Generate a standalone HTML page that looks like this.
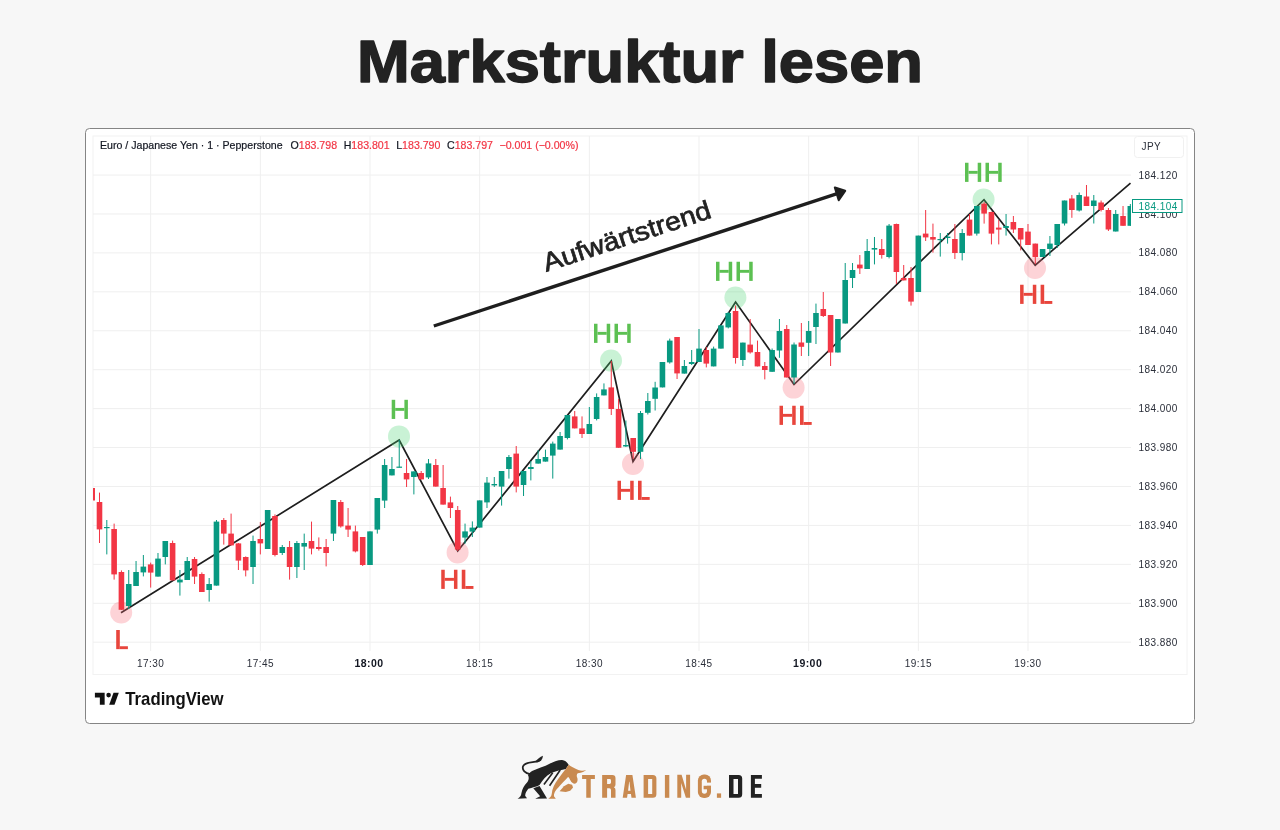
<!DOCTYPE html>
<html><head><meta charset="utf-8">
<style>
html,body{margin:0;padding:0;width:1280px;height:830px;overflow:hidden;background:#f7f7f7;}
svg{position:absolute;left:0;top:0;will-change:transform;}
text{font-family:"Liberation Sans",sans-serif;}
.ax{font-size:10px;letter-spacing:0.45px;fill:#2a2e39;}
.axb{font-weight:bold;fill:#131722;}
.lab{font-size:28px;font-weight:bold;}
.gl{fill:#5cbf55;}
.rl{fill:#e54a3e;}
.hd{font-size:10.6px;fill:#131722;stroke:#131722;stroke-width:0.2px;}
.hr{fill:#f23645;stroke:#f23645;}
</style></head><body>
<svg width="1280" height="830" viewBox="0 0 1280 830">
<text x="357" y="82.4" font-size="60" font-weight="bold" fill="#222222" stroke="#222222" stroke-width="1.5" stroke-linejoin="round" textLength="566" lengthAdjust="spacingAndGlyphs">Markstruktur lesen</text>
<rect x="85.5" y="128.5" width="1109" height="595" rx="4" fill="#ffffff" stroke="#858585" stroke-width="1"/>
<rect x="93" y="136" width="1094" height="538.5" fill="none" stroke="#f2f2f2" stroke-width="1"/>
<g><rect x="93" y="641.70" width="1038" height="1" fill="#efefef"/>
<rect x="93" y="602.77" width="1038" height="1" fill="#efefef"/>
<rect x="93" y="563.84" width="1038" height="1" fill="#efefef"/>
<rect x="93" y="524.91" width="1038" height="1" fill="#efefef"/>
<rect x="93" y="485.98" width="1038" height="1" fill="#efefef"/>
<rect x="93" y="447.05" width="1038" height="1" fill="#efefef"/>
<rect x="93" y="408.12" width="1038" height="1" fill="#efefef"/>
<rect x="93" y="369.19" width="1038" height="1" fill="#efefef"/>
<rect x="93" y="330.26" width="1038" height="1" fill="#efefef"/>
<rect x="93" y="291.33" width="1038" height="1" fill="#efefef"/>
<rect x="93" y="252.40" width="1038" height="1" fill="#efefef"/>
<rect x="93" y="213.47" width="1038" height="1" fill="#efefef"/>
<rect x="93" y="174.54" width="1038" height="1" fill="#efefef"/>
<rect x="150.17" y="136" width="1" height="515" fill="#efefef"/>
<rect x="259.84" y="136" width="1" height="515" fill="#efefef"/>
<rect x="369.50" y="136" width="1" height="515" fill="#efefef"/>
<rect x="479.16" y="136" width="1" height="515" fill="#efefef"/>
<rect x="588.83" y="136" width="1" height="515" fill="#efefef"/>
<rect x="698.50" y="136" width="1" height="515" fill="#efefef"/>
<rect x="808.16" y="136" width="1" height="515" fill="#efefef"/>
<rect x="917.83" y="136" width="1" height="515" fill="#efefef"/>
<rect x="1027.49" y="136" width="1" height="515" fill="#efefef"/></g>
<defs><clipPath id="pc"><rect x="93" y="136" width="1038" height="538"/></clipPath></defs>
<polyline points="121,612.8 399.2,440 457.7,551 611.3,361 633,461.5 735.6,302 794,384.5 984,199.7 1035.2,265.2 1130.5,183.2" fill="none" stroke="#1e1e1e" stroke-width="1.7" stroke-linejoin="miter"/>
<circle cx="121.2" cy="612.5" r="11" fill="rgba(248,108,122,0.3)"/>
<circle cx="399" cy="436.4" r="11" fill="rgba(75,212,115,0.3)"/>
<circle cx="457.6" cy="552.4" r="11" fill="rgba(248,108,122,0.3)"/>
<circle cx="611" cy="360.6" r="11" fill="rgba(75,212,115,0.3)"/>
<circle cx="633" cy="464" r="11" fill="rgba(248,108,122,0.3)"/>
<circle cx="735.4" cy="297.6" r="11" fill="rgba(75,212,115,0.3)"/>
<circle cx="793.6" cy="387.6" r="11" fill="rgba(248,108,122,0.3)"/>
<circle cx="983.6" cy="199.6" r="11" fill="rgba(75,212,115,0.3)"/>
<circle cx="1035" cy="268" r="11" fill="rgba(248,108,122,0.3)"/>
<g clip-path="url(#pc)"><rect x="91.68" y="488.0" width="1" height="12.5" fill="#f23645"/>
<rect x="89.38" y="488.0" width="5.6" height="12.5" fill="#f23645"/>
<rect x="98.99" y="492.6" width="1" height="50.4" fill="#f23645"/>
<rect x="96.69" y="502.0" width="5.6" height="27.4" fill="#f23645"/>
<rect x="106.30" y="520.0" width="1" height="34.4" fill="#089981"/>
<rect x="104.00" y="527.0" width="5.6" height="1.2" fill="#089981"/>
<rect x="113.62" y="523.6" width="1" height="56.0" fill="#f23645"/>
<rect x="111.32" y="529.0" width="5.6" height="45.4" fill="#f23645"/>
<rect x="120.93" y="570.4" width="1" height="39.6" fill="#f23645"/>
<rect x="118.63" y="572.0" width="5.6" height="37.8" fill="#f23645"/>
<rect x="128.24" y="570.0" width="1" height="39.0" fill="#089981"/>
<rect x="125.94" y="584.0" width="5.6" height="22.0" fill="#089981"/>
<rect x="135.55" y="561.0" width="1" height="25.0" fill="#089981"/>
<rect x="133.25" y="572.0" width="5.6" height="14.0" fill="#089981"/>
<rect x="142.86" y="555.0" width="1" height="21.4" fill="#089981"/>
<rect x="140.56" y="566.6" width="5.6" height="5.8" fill="#089981"/>
<rect x="150.17" y="562.6" width="1" height="25.0" fill="#f23645"/>
<rect x="147.87" y="564.4" width="5.6" height="8.2" fill="#f23645"/>
<rect x="157.48" y="553.0" width="1" height="23.6" fill="#089981"/>
<rect x="155.18" y="558.6" width="5.6" height="18.0" fill="#089981"/>
<rect x="164.79" y="541.0" width="1" height="23.4" fill="#089981"/>
<rect x="162.49" y="541.0" width="5.6" height="16.0" fill="#089981"/>
<rect x="172.10" y="540.6" width="1" height="39.8" fill="#f23645"/>
<rect x="169.80" y="543.0" width="5.6" height="37.4" fill="#f23645"/>
<rect x="179.41" y="570.0" width="1" height="25.6" fill="#089981"/>
<rect x="177.11" y="579.6" width="5.6" height="2.8" fill="#089981"/>
<rect x="186.72" y="557.0" width="1" height="23.0" fill="#089981"/>
<rect x="184.42" y="561.0" width="5.6" height="19.0" fill="#089981"/>
<rect x="194.04" y="557.0" width="1" height="27.0" fill="#f23645"/>
<rect x="191.74" y="559.0" width="5.6" height="17.6" fill="#f23645"/>
<rect x="201.35" y="572.4" width="1" height="19.6" fill="#f23645"/>
<rect x="199.05" y="574.0" width="5.6" height="18.0" fill="#f23645"/>
<rect x="208.66" y="578.0" width="1" height="23.6" fill="#089981"/>
<rect x="206.36" y="584.0" width="5.6" height="6.0" fill="#089981"/>
<rect x="215.97" y="520.0" width="1" height="65.6" fill="#089981"/>
<rect x="213.67" y="521.6" width="5.6" height="64.0" fill="#089981"/>
<rect x="223.28" y="518.0" width="1" height="26.6" fill="#f23645"/>
<rect x="220.98" y="520.0" width="5.6" height="13.6" fill="#f23645"/>
<rect x="230.59" y="513.6" width="1" height="31.8" fill="#f23645"/>
<rect x="228.29" y="533.6" width="5.6" height="11.8" fill="#f23645"/>
<rect x="237.90" y="543.0" width="1" height="27.0" fill="#f23645"/>
<rect x="235.60" y="543.4" width="5.6" height="17.2" fill="#f23645"/>
<rect x="245.21" y="556.4" width="1" height="20.0" fill="#f23645"/>
<rect x="242.91" y="557.0" width="5.6" height="13.4" fill="#f23645"/>
<rect x="252.52" y="535.6" width="1" height="48.4" fill="#089981"/>
<rect x="250.22" y="541.0" width="5.6" height="26.0" fill="#089981"/>
<rect x="259.84" y="522.0" width="1" height="32.4" fill="#f23645"/>
<rect x="257.54" y="539.0" width="5.6" height="4.4" fill="#f23645"/>
<rect x="267.15" y="510.0" width="1" height="39.0" fill="#089981"/>
<rect x="264.85" y="510.0" width="5.6" height="39.0" fill="#089981"/>
<rect x="274.46" y="514.4" width="1" height="42.0" fill="#f23645"/>
<rect x="272.16" y="516.0" width="5.6" height="39.0" fill="#f23645"/>
<rect x="281.77" y="545.0" width="1" height="10.0" fill="#089981"/>
<rect x="279.47" y="547.0" width="5.6" height="6.0" fill="#089981"/>
<rect x="289.08" y="541.0" width="1" height="38.6" fill="#f23645"/>
<rect x="286.78" y="547.0" width="5.6" height="20.0" fill="#f23645"/>
<rect x="296.39" y="541.0" width="1" height="37.0" fill="#089981"/>
<rect x="294.09" y="543.0" width="5.6" height="24.0" fill="#089981"/>
<rect x="303.70" y="533.6" width="1" height="36.4" fill="#089981"/>
<rect x="301.40" y="543.0" width="5.6" height="3.6" fill="#089981"/>
<rect x="311.01" y="521.6" width="1" height="32.8" fill="#f23645"/>
<rect x="308.71" y="541.0" width="5.6" height="7.6" fill="#f23645"/>
<rect x="318.32" y="537.4" width="1" height="13.2" fill="#f23645"/>
<rect x="316.02" y="547.0" width="5.6" height="2.0" fill="#f23645"/>
<rect x="325.63" y="539.0" width="1" height="27.4" fill="#f23645"/>
<rect x="323.33" y="547.0" width="5.6" height="6.0" fill="#f23645"/>
<rect x="332.94" y="500.0" width="1" height="41.0" fill="#089981"/>
<rect x="330.64" y="500.0" width="5.6" height="33.6" fill="#089981"/>
<rect x="340.26" y="500.0" width="1" height="27.6" fill="#f23645"/>
<rect x="337.96" y="502.0" width="5.6" height="24.4" fill="#f23645"/>
<rect x="347.57" y="508.0" width="1" height="29.0" fill="#f23645"/>
<rect x="345.27" y="525.6" width="5.6" height="4.0" fill="#f23645"/>
<rect x="354.88" y="525.6" width="1" height="26.8" fill="#f23645"/>
<rect x="352.58" y="531.4" width="5.6" height="20.0" fill="#f23645"/>
<rect x="362.19" y="537.0" width="1" height="29.0" fill="#f23645"/>
<rect x="359.89" y="537.0" width="5.6" height="28.0" fill="#f23645"/>
<rect x="369.50" y="531.4" width="1" height="33.6" fill="#089981"/>
<rect x="367.20" y="531.4" width="5.6" height="33.6" fill="#089981"/>
<rect x="376.81" y="498.0" width="1" height="35.6" fill="#089981"/>
<rect x="374.51" y="498.0" width="5.6" height="31.6" fill="#089981"/>
<rect x="384.12" y="459.0" width="1" height="49.0" fill="#089981"/>
<rect x="381.82" y="465.0" width="5.6" height="35.6" fill="#089981"/>
<rect x="391.43" y="457.0" width="1" height="18.4" fill="#089981"/>
<rect x="389.13" y="469.0" width="5.6" height="6.4" fill="#089981"/>
<rect x="398.74" y="440.0" width="1" height="27.6" fill="#089981"/>
<rect x="396.44" y="466.6" width="5.6" height="1.2" fill="#089981"/>
<rect x="406.06" y="459.0" width="1" height="28.0" fill="#f23645"/>
<rect x="403.75" y="473.0" width="5.6" height="6.4" fill="#f23645"/>
<rect x="413.37" y="471.4" width="1" height="23.0" fill="#089981"/>
<rect x="411.07" y="471.4" width="5.6" height="5.6" fill="#089981"/>
<rect x="420.68" y="471.0" width="1" height="8.4" fill="#f23645"/>
<rect x="418.38" y="473.0" width="5.6" height="6.4" fill="#f23645"/>
<rect x="427.99" y="459.0" width="1" height="20.0" fill="#089981"/>
<rect x="425.69" y="463.4" width="5.6" height="14.0" fill="#089981"/>
<rect x="435.30" y="459.0" width="1" height="27.6" fill="#f23645"/>
<rect x="433.00" y="465.0" width="5.6" height="21.6" fill="#f23645"/>
<rect x="442.61" y="465.0" width="1" height="39.6" fill="#f23645"/>
<rect x="440.31" y="488.0" width="5.6" height="16.6" fill="#f23645"/>
<rect x="449.92" y="496.6" width="1" height="21.4" fill="#f23645"/>
<rect x="447.62" y="502.4" width="5.6" height="5.6" fill="#f23645"/>
<rect x="457.23" y="506.0" width="1" height="45.0" fill="#f23645"/>
<rect x="454.93" y="510.0" width="5.6" height="39.6" fill="#f23645"/>
<rect x="464.54" y="523.6" width="1" height="20.0" fill="#089981"/>
<rect x="462.24" y="531.4" width="5.6" height="6.2" fill="#089981"/>
<rect x="471.85" y="521.4" width="1" height="15.6" fill="#089981"/>
<rect x="469.55" y="527.6" width="5.6" height="4.0" fill="#089981"/>
<rect x="479.16" y="500.4" width="1" height="27.2" fill="#089981"/>
<rect x="476.86" y="500.4" width="5.6" height="27.2" fill="#089981"/>
<rect x="486.48" y="477.0" width="1" height="31.0" fill="#089981"/>
<rect x="484.18" y="482.6" width="5.6" height="19.8" fill="#089981"/>
<rect x="493.79" y="477.0" width="1" height="10.0" fill="#089981"/>
<rect x="491.49" y="484.0" width="5.6" height="1.4" fill="#089981"/>
<rect x="501.10" y="471.0" width="1" height="34.6" fill="#089981"/>
<rect x="498.80" y="471.0" width="5.6" height="15.6" fill="#089981"/>
<rect x="508.41" y="455.0" width="1" height="23.6" fill="#089981"/>
<rect x="506.11" y="457.0" width="5.6" height="12.0" fill="#089981"/>
<rect x="515.72" y="446.0" width="1" height="46.4" fill="#f23645"/>
<rect x="513.42" y="453.6" width="5.6" height="33.0" fill="#f23645"/>
<rect x="523.03" y="471.0" width="1" height="25.0" fill="#089981"/>
<rect x="520.73" y="471.0" width="5.6" height="14.0" fill="#089981"/>
<rect x="530.34" y="461.0" width="1" height="19.4" fill="#089981"/>
<rect x="528.04" y="467.0" width="5.6" height="2.0" fill="#089981"/>
<rect x="537.65" y="450.0" width="1" height="13.6" fill="#089981"/>
<rect x="535.35" y="459.0" width="5.6" height="4.6" fill="#089981"/>
<rect x="544.96" y="449.6" width="1" height="12.0" fill="#089981"/>
<rect x="542.66" y="457.0" width="5.6" height="4.6" fill="#089981"/>
<rect x="552.27" y="441.6" width="1" height="37.0" fill="#089981"/>
<rect x="549.98" y="443.6" width="5.6" height="12.0" fill="#089981"/>
<rect x="559.59" y="432.0" width="1" height="17.6" fill="#089981"/>
<rect x="557.29" y="436.0" width="5.6" height="13.6" fill="#089981"/>
<rect x="566.90" y="415.0" width="1" height="24.4" fill="#089981"/>
<rect x="564.60" y="415.0" width="5.6" height="23.0" fill="#089981"/>
<rect x="574.21" y="411.0" width="1" height="17.4" fill="#f23645"/>
<rect x="571.91" y="416.4" width="5.6" height="12.0" fill="#f23645"/>
<rect x="581.52" y="416.4" width="1" height="21.6" fill="#f23645"/>
<rect x="579.22" y="428.4" width="5.6" height="5.6" fill="#f23645"/>
<rect x="588.83" y="407.0" width="1" height="27.0" fill="#089981"/>
<rect x="586.53" y="424.0" width="5.6" height="10.0" fill="#089981"/>
<rect x="596.14" y="393.4" width="1" height="27.0" fill="#089981"/>
<rect x="593.84" y="397.0" width="5.6" height="22.0" fill="#089981"/>
<rect x="603.45" y="383.4" width="1" height="12.0" fill="#089981"/>
<rect x="601.15" y="389.4" width="5.6" height="6.0" fill="#089981"/>
<rect x="610.76" y="361.0" width="1" height="54.0" fill="#f23645"/>
<rect x="608.46" y="387.4" width="5.6" height="21.6" fill="#f23645"/>
<rect x="618.07" y="399.0" width="1" height="48.8" fill="#f23645"/>
<rect x="615.77" y="409.0" width="5.6" height="38.8" fill="#f23645"/>
<rect x="625.38" y="420.5" width="1" height="26.5" fill="#089981"/>
<rect x="623.09" y="445.0" width="5.6" height="1.5" fill="#089981"/>
<rect x="632.70" y="438.0" width="1" height="21.0" fill="#f23645"/>
<rect x="630.40" y="438.0" width="5.6" height="13.8" fill="#f23645"/>
<rect x="640.01" y="411.0" width="1" height="48.0" fill="#089981"/>
<rect x="637.71" y="413.0" width="5.6" height="38.8" fill="#089981"/>
<rect x="647.32" y="393.0" width="1" height="21.5" fill="#089981"/>
<rect x="645.02" y="401.0" width="5.6" height="11.8" fill="#089981"/>
<rect x="654.63" y="381.8" width="1" height="28.7" fill="#089981"/>
<rect x="652.33" y="387.5" width="5.6" height="11.3" fill="#089981"/>
<rect x="661.94" y="362.0" width="1" height="25.4" fill="#089981"/>
<rect x="659.64" y="362.0" width="5.6" height="25.4" fill="#089981"/>
<rect x="669.25" y="338.6" width="1" height="25.0" fill="#089981"/>
<rect x="666.95" y="340.6" width="5.6" height="21.8" fill="#089981"/>
<rect x="676.56" y="337.0" width="1" height="42.0" fill="#f23645"/>
<rect x="674.26" y="337.0" width="5.6" height="36.4" fill="#f23645"/>
<rect x="683.87" y="360.0" width="1" height="13.6" fill="#089981"/>
<rect x="681.57" y="366.0" width="5.6" height="7.6" fill="#089981"/>
<rect x="691.18" y="350.0" width="1" height="15.0" fill="#089981"/>
<rect x="688.88" y="362.0" width="5.6" height="2.0" fill="#089981"/>
<rect x="698.50" y="329.0" width="1" height="33.0" fill="#089981"/>
<rect x="696.20" y="348.6" width="5.6" height="13.4" fill="#089981"/>
<rect x="705.81" y="347.0" width="1" height="20.4" fill="#f23645"/>
<rect x="703.51" y="350.0" width="5.6" height="13.6" fill="#f23645"/>
<rect x="713.12" y="346.6" width="1" height="19.8" fill="#089981"/>
<rect x="710.82" y="348.6" width="5.6" height="17.8" fill="#089981"/>
<rect x="720.43" y="325.4" width="1" height="23.2" fill="#089981"/>
<rect x="718.13" y="325.4" width="5.6" height="23.2" fill="#089981"/>
<rect x="727.74" y="312.0" width="1" height="16.4" fill="#089981"/>
<rect x="725.44" y="313.0" width="5.6" height="14.4" fill="#089981"/>
<rect x="735.05" y="305.5" width="1" height="58.1" fill="#f23645"/>
<rect x="732.75" y="311.0" width="5.6" height="47.0" fill="#f23645"/>
<rect x="742.36" y="342.6" width="1" height="23.4" fill="#089981"/>
<rect x="740.06" y="342.6" width="5.6" height="17.4" fill="#089981"/>
<rect x="749.67" y="319.0" width="1" height="34.6" fill="#f23645"/>
<rect x="747.37" y="344.6" width="5.6" height="7.8" fill="#f23645"/>
<rect x="756.98" y="340.6" width="1" height="25.8" fill="#f23645"/>
<rect x="754.68" y="352.0" width="5.6" height="14.4" fill="#f23645"/>
<rect x="764.29" y="362.0" width="1" height="17.4" fill="#f23645"/>
<rect x="761.99" y="366.0" width="5.6" height="4.0" fill="#f23645"/>
<rect x="771.61" y="348.5" width="1" height="23.3" fill="#089981"/>
<rect x="769.31" y="350.0" width="5.6" height="21.8" fill="#089981"/>
<rect x="778.92" y="319.0" width="1" height="38.8" fill="#089981"/>
<rect x="776.62" y="331.0" width="5.6" height="19.5" fill="#089981"/>
<rect x="786.23" y="325.0" width="1" height="52.5" fill="#f23645"/>
<rect x="783.93" y="329.0" width="5.6" height="48.5" fill="#f23645"/>
<rect x="793.54" y="342.5" width="1" height="41.5" fill="#089981"/>
<rect x="791.24" y="344.5" width="5.6" height="33.0" fill="#089981"/>
<rect x="800.85" y="323.0" width="1" height="33.0" fill="#f23645"/>
<rect x="798.55" y="342.5" width="5.6" height="4.3" fill="#f23645"/>
<rect x="808.16" y="321.0" width="1" height="35.0" fill="#089981"/>
<rect x="805.86" y="331.0" width="5.6" height="11.8" fill="#089981"/>
<rect x="815.47" y="303.6" width="1" height="40.4" fill="#089981"/>
<rect x="813.17" y="313.0" width="5.6" height="14.0" fill="#089981"/>
<rect x="822.78" y="292.0" width="1" height="25.0" fill="#f23645"/>
<rect x="820.48" y="309.0" width="5.6" height="7.0" fill="#f23645"/>
<rect x="830.09" y="315.0" width="1" height="51.0" fill="#f23645"/>
<rect x="827.79" y="315.0" width="5.6" height="37.5" fill="#f23645"/>
<rect x="837.40" y="319.0" width="1" height="33.5" fill="#089981"/>
<rect x="835.10" y="319.0" width="5.6" height="33.5" fill="#089981"/>
<rect x="844.71" y="263.0" width="1" height="60.5" fill="#089981"/>
<rect x="842.41" y="280.0" width="5.6" height="43.5" fill="#089981"/>
<rect x="852.03" y="263.0" width="1" height="25.0" fill="#089981"/>
<rect x="849.73" y="270.0" width="5.6" height="8.0" fill="#089981"/>
<rect x="859.34" y="255.0" width="1" height="19.0" fill="#f23645"/>
<rect x="857.04" y="264.6" width="5.6" height="3.8" fill="#f23645"/>
<rect x="866.65" y="239.0" width="1" height="30.0" fill="#089981"/>
<rect x="864.35" y="251.0" width="5.6" height="18.0" fill="#089981"/>
<rect x="873.96" y="237.0" width="1" height="27.4" fill="#089981"/>
<rect x="871.66" y="248.0" width="5.6" height="1.6" fill="#089981"/>
<rect x="881.27" y="239.0" width="1" height="19.6" fill="#f23645"/>
<rect x="878.97" y="249.0" width="5.6" height="6.0" fill="#f23645"/>
<rect x="888.58" y="224.0" width="1" height="34.4" fill="#089981"/>
<rect x="886.28" y="225.6" width="5.6" height="31.4" fill="#089981"/>
<rect x="895.89" y="223.6" width="1" height="60.4" fill="#f23645"/>
<rect x="893.59" y="224.0" width="5.6" height="48.0" fill="#f23645"/>
<rect x="903.20" y="265.0" width="1" height="15.4" fill="#f23645"/>
<rect x="900.90" y="278.0" width="5.6" height="2.4" fill="#f23645"/>
<rect x="910.51" y="267.0" width="1" height="38.6" fill="#f23645"/>
<rect x="908.21" y="278.0" width="5.6" height="23.6" fill="#f23645"/>
<rect x="917.83" y="235.6" width="1" height="56.4" fill="#089981"/>
<rect x="915.53" y="235.6" width="5.6" height="56.4" fill="#089981"/>
<rect x="925.14" y="210.0" width="1" height="31.0" fill="#f23645"/>
<rect x="922.84" y="233.6" width="5.6" height="3.8" fill="#f23645"/>
<rect x="932.45" y="223.6" width="1" height="29.0" fill="#f23645"/>
<rect x="930.15" y="237.0" width="5.6" height="2.6" fill="#f23645"/>
<rect x="939.76" y="233.0" width="1" height="23.6" fill="#089981"/>
<rect x="937.46" y="239.0" width="5.6" height="1.2" fill="#089981"/>
<rect x="947.07" y="233.0" width="1" height="10.6" fill="#089981"/>
<rect x="944.77" y="236.6" width="5.6" height="1.4" fill="#089981"/>
<rect x="954.38" y="224.0" width="1" height="35.0" fill="#f23645"/>
<rect x="952.08" y="239.0" width="5.6" height="14.0" fill="#f23645"/>
<rect x="961.69" y="229.0" width="1" height="31.4" fill="#089981"/>
<rect x="959.39" y="233.0" width="5.6" height="20.0" fill="#089981"/>
<rect x="969.00" y="214.0" width="1" height="21.6" fill="#f23645"/>
<rect x="966.70" y="219.6" width="5.6" height="16.0" fill="#f23645"/>
<rect x="976.31" y="206.0" width="1" height="29.6" fill="#089981"/>
<rect x="974.01" y="206.0" width="5.6" height="27.6" fill="#089981"/>
<rect x="983.62" y="202.0" width="1" height="21.6" fill="#f23645"/>
<rect x="981.32" y="203.6" width="5.6" height="10.0" fill="#f23645"/>
<rect x="990.93" y="211.6" width="1" height="32.8" fill="#f23645"/>
<rect x="988.63" y="212.0" width="5.6" height="21.6" fill="#f23645"/>
<rect x="998.25" y="220.0" width="1" height="24.4" fill="#f23645"/>
<rect x="995.95" y="227.6" width="5.6" height="2.0" fill="#f23645"/>
<rect x="1005.56" y="214.0" width="1" height="21.6" fill="#089981"/>
<rect x="1003.26" y="226.0" width="5.6" height="2.0" fill="#089981"/>
<rect x="1012.87" y="216.0" width="1" height="17.0" fill="#f23645"/>
<rect x="1010.57" y="222.0" width="5.6" height="7.5" fill="#f23645"/>
<rect x="1020.18" y="228.0" width="1" height="22.4" fill="#f23645"/>
<rect x="1017.88" y="228.0" width="5.6" height="11.5" fill="#f23645"/>
<rect x="1027.49" y="224.0" width="1" height="21.0" fill="#f23645"/>
<rect x="1025.19" y="231.6" width="5.6" height="13.4" fill="#f23645"/>
<rect x="1034.80" y="243.6" width="1" height="20.4" fill="#f23645"/>
<rect x="1032.50" y="243.6" width="5.6" height="13.4" fill="#f23645"/>
<rect x="1042.11" y="249.0" width="1" height="8.0" fill="#089981"/>
<rect x="1039.81" y="249.0" width="5.6" height="8.0" fill="#089981"/>
<rect x="1049.42" y="236.0" width="1" height="20.0" fill="#089981"/>
<rect x="1047.12" y="243.6" width="5.6" height="5.4" fill="#089981"/>
<rect x="1056.73" y="224.0" width="1" height="24.0" fill="#089981"/>
<rect x="1054.43" y="224.0" width="5.6" height="21.0" fill="#089981"/>
<rect x="1064.05" y="200.5" width="1" height="25.0" fill="#089981"/>
<rect x="1061.75" y="200.5" width="5.6" height="23.0" fill="#089981"/>
<rect x="1071.36" y="195.0" width="1" height="22.8" fill="#f23645"/>
<rect x="1069.06" y="198.5" width="5.6" height="11.5" fill="#f23645"/>
<rect x="1078.67" y="192.5" width="1" height="19.0" fill="#089981"/>
<rect x="1076.37" y="195.0" width="5.6" height="15.5" fill="#089981"/>
<rect x="1085.98" y="185.0" width="1" height="21.0" fill="#f23645"/>
<rect x="1083.68" y="196.5" width="5.6" height="9.5" fill="#f23645"/>
<rect x="1093.29" y="195.0" width="1" height="28.5" fill="#089981"/>
<rect x="1090.99" y="200.5" width="5.6" height="5.5" fill="#089981"/>
<rect x="1100.60" y="200.5" width="1" height="11.0" fill="#f23645"/>
<rect x="1098.30" y="202.5" width="5.6" height="7.5" fill="#f23645"/>
<rect x="1107.91" y="208.0" width="1" height="23.0" fill="#f23645"/>
<rect x="1105.61" y="210.0" width="5.6" height="19.5" fill="#f23645"/>
<rect x="1115.22" y="210.0" width="1" height="21.5" fill="#089981"/>
<rect x="1112.92" y="214.0" width="5.6" height="17.5" fill="#089981"/>
<rect x="1122.53" y="206.0" width="1" height="19.8" fill="#f23645"/>
<rect x="1120.23" y="216.0" width="5.6" height="9.8" fill="#f23645"/>
<rect x="1129.84" y="204.0" width="1" height="21.8" fill="#089981"/>
<rect x="1127.54" y="206.0" width="5.6" height="19.8" fill="#089981"/></g>
<rect x="1131" y="137" width="54" height="536" fill="#ffffff"/>
<rect x="1131.5" y="137" width="0" height="536" fill="none"/>
<text x="1138.5" y="645.7" class="ax">183.880</text>
<text x="1138.5" y="606.8" class="ax">183.900</text>
<text x="1138.5" y="567.8" class="ax">183.920</text>
<text x="1138.5" y="528.9" class="ax">183.940</text>
<text x="1138.5" y="490.0" class="ax">183.960</text>
<text x="1138.5" y="451.1" class="ax">183.980</text>
<text x="1138.5" y="412.1" class="ax">184.000</text>
<text x="1138.5" y="373.2" class="ax">184.020</text>
<text x="1138.5" y="334.3" class="ax">184.040</text>
<text x="1138.5" y="295.3" class="ax">184.060</text>
<text x="1138.5" y="256.4" class="ax">184.080</text>
<text x="1138.5" y="217.5" class="ax">184.100</text>
<text x="1138.5" y="178.5" class="ax">184.120</text>
<text x="150.7" y="667" class="ax" text-anchor="middle">17:30</text>
<text x="260.3" y="667" class="ax" text-anchor="middle">17:45</text>
<text x="354.4" y="667" class="ax axb" letter-spacing="1.0" style="font-size:10.5px">18:00</text>
<text x="479.7" y="667" class="ax" text-anchor="middle">18:15</text>
<text x="589.3" y="667" class="ax" text-anchor="middle">18:30</text>
<text x="699.0" y="667" class="ax" text-anchor="middle">18:45</text>
<text x="793.1" y="667" class="ax axb" letter-spacing="1.0" style="font-size:10.5px">19:00</text>
<text x="918.3" y="667" class="ax" text-anchor="middle">19:15</text>
<text x="1028.0" y="667" class="ax" text-anchor="middle">19:30</text>
<rect x="1134.5" y="136.5" width="49" height="21" rx="3" fill="#fff" stroke="#f0f0f0"/>
<text x="1141.5" y="150.2" class="ax">JPY</text>
<rect x="1132.5" y="199.5" width="49.5" height="13" fill="#fff" stroke="#089981" stroke-width="1"/>
<text x="1138.5" y="209.5" class="ax" style="fill:#089981">184.104</text>
<text x="100" y="149" class="hd">Euro / Japanese Yen · 1 · Pepperstone <tspan x="290.5">O</tspan><tspan class="hr">183.798</tspan><tspan x="343.7">H</tspan><tspan class="hr">183.801</tspan><tspan x="396.2">L</tspan><tspan class="hr">183.790</tspan><tspan x="447">C</tspan><tspan class="hr">183.797</tspan><tspan x="499.5" class="hr">−0.001 (−0.00%)</tspan></text>
<rect x="116.20" y="630.00" width="3.6" height="19.15" fill="#e8453c"/>
<rect x="119.80" y="646.25" width="8.1" height="2.9" fill="#e8453c"/>
<rect x="391.70" y="399.80" width="3.5" height="19.15" fill="#5cc052"/>
<rect x="404.40" y="399.80" width="3.5" height="19.15" fill="#5cc052"/>
<rect x="395.20" y="407.93" width="9.2" height="2.9" fill="#5cc052"/>
<rect x="441.25" y="569.75" width="3.5" height="19.15" fill="#e8453c"/>
<rect x="453.95" y="569.75" width="3.5" height="19.15" fill="#e8453c"/>
<rect x="444.75" y="577.88" width="9.2" height="2.9" fill="#e8453c"/>
<rect x="461.75" y="569.75" width="3.6" height="19.15" fill="#e8453c"/>
<rect x="465.35" y="586.00" width="8.1" height="2.9" fill="#e8453c"/>
<rect x="594.00" y="323.75" width="3.5" height="19.15" fill="#5cc052"/>
<rect x="606.70" y="323.75" width="3.5" height="19.15" fill="#5cc052"/>
<rect x="597.50" y="331.88" width="9.2" height="2.9" fill="#5cc052"/>
<rect x="614.50" y="323.75" width="3.5" height="19.15" fill="#5cc052"/>
<rect x="627.20" y="323.75" width="3.5" height="19.15" fill="#5cc052"/>
<rect x="618.00" y="331.88" width="9.2" height="2.9" fill="#5cc052"/>
<rect x="617.50" y="480.75" width="3.5" height="19.15" fill="#e8453c"/>
<rect x="630.20" y="480.75" width="3.5" height="19.15" fill="#e8453c"/>
<rect x="621.00" y="488.88" width="9.2" height="2.9" fill="#e8453c"/>
<rect x="638.00" y="480.75" width="3.6" height="19.15" fill="#e8453c"/>
<rect x="641.60" y="497.00" width="8.1" height="2.9" fill="#e8453c"/>
<rect x="716.00" y="261.75" width="3.5" height="19.15" fill="#5cc052"/>
<rect x="728.70" y="261.75" width="3.5" height="19.15" fill="#5cc052"/>
<rect x="719.50" y="269.88" width="9.2" height="2.9" fill="#5cc052"/>
<rect x="736.50" y="261.75" width="3.5" height="19.15" fill="#5cc052"/>
<rect x="749.20" y="261.75" width="3.5" height="19.15" fill="#5cc052"/>
<rect x="740.00" y="269.88" width="9.2" height="2.9" fill="#5cc052"/>
<rect x="779.50" y="405.75" width="3.5" height="19.15" fill="#e8453c"/>
<rect x="792.20" y="405.75" width="3.5" height="19.15" fill="#e8453c"/>
<rect x="783.00" y="413.88" width="9.2" height="2.9" fill="#e8453c"/>
<rect x="800.00" y="405.75" width="3.6" height="19.15" fill="#e8453c"/>
<rect x="803.60" y="422.00" width="8.1" height="2.9" fill="#e8453c"/>
<rect x="965.00" y="162.75" width="3.5" height="19.15" fill="#5cc052"/>
<rect x="977.70" y="162.75" width="3.5" height="19.15" fill="#5cc052"/>
<rect x="968.50" y="170.88" width="9.2" height="2.9" fill="#5cc052"/>
<rect x="985.50" y="162.75" width="3.5" height="19.15" fill="#5cc052"/>
<rect x="998.20" y="162.75" width="3.5" height="19.15" fill="#5cc052"/>
<rect x="989.00" y="170.88" width="9.2" height="2.9" fill="#5cc052"/>
<rect x="1020.10" y="284.75" width="3.5" height="19.15" fill="#e8453c"/>
<rect x="1032.80" y="284.75" width="3.5" height="19.15" fill="#e8453c"/>
<rect x="1023.60" y="292.88" width="9.2" height="2.9" fill="#e8453c"/>
<rect x="1040.60" y="284.75" width="3.6" height="19.15" fill="#e8453c"/>
<rect x="1044.20" y="301.00" width="8.1" height="2.9" fill="#e8453c"/>
<line x1="433.8" y1="326" x2="838" y2="193.3" stroke="#1e1e1e" stroke-width="3.4"/>
<polygon points="834.9,187.5 845.1,190.9 838.7,200" fill="#1e1e1e" stroke="#1e1e1e" stroke-width="2.2" stroke-linejoin="round"/>
<text transform="translate(546.3,271.8) rotate(-18.1)" font-size="26" fill="#222" stroke="#222" stroke-width="0.7" textLength="175" lengthAdjust="spacingAndGlyphs">Aufwärtstrend</text>
<g fill="#111111">
<path d="M94.9,692.7 H104.65 V704.7 H99.85 V697.4 H94.9 Z"/>
<circle cx="108.6" cy="695.1" r="2.3"/>
<path d="M113.5,692.7 H118.8 L114.5,704.7 H109.2 Z"/>
</g>
<text x="125.3" y="704.7" font-size="17.8" font-weight="bold" fill="#111111" textLength="98.3" lengthAdjust="spacingAndGlyphs">TradingView</text>

<g transform="translate(512,750) scale(0.0626)">
<path fill="#222222" d="M330,330 C420,290 520,265 600,220 C680,180 740,158 800,160 C850,165 880,200 905,235 L860,305 C800,318 700,335 620,372 C540,410 490,480 440,560 C400,590 320,600 260,620 C230,660 205,700 212,735 L240,772 L90,778 C120,760 150,730 150,690 C165,620 195,570 240,520 C270,480 275,440 255,400 C275,370 300,345 330,330 Z"/>
<path fill="#222222" d="M340,610 L440,575 L560,775 L370,778 L450,740 Z"/>
<path fill="none" stroke="#222222" stroke-width="28" d="M290,385 C210,375 160,320 175,265 C190,215 260,200 330,192 C370,188 390,185 410,178"/>
<path fill="#222222" d="M370,190 C400,140 450,110 495,90 C490,150 460,190 400,200 Z"/>
<path fill="none" stroke="#222222" stroke-width="26" d="M510,550 L650,365 M600,570 L770,320"/>
<path fill="#c98a50" d="M905,235 C950,270 1000,290 1060,320 C1100,335 1140,335 1185,320 C1160,345 1120,362 1050,370 C1030,385 1030,420 1045,450 C1055,490 1040,530 1005,540 C975,540 950,520 930,480 C915,450 905,430 895,430 C850,480 790,540 740,600 C690,650 665,700 670,740 L700,778 L580,780 C610,760 630,740 635,700 C640,620 680,540 740,460 C790,390 830,340 860,305 Z"/>
<path fill="#c98a50" d="M760,660 L830,580 L900,540 L960,555 L975,600 L930,650 L860,670 Z"/>
</g>

<path fill="#c98a50" d="M582.1,775.1 H594.9 V779 H590.75 V797.75 H586.25 V779 H582.1 Z"/>
<path fill-rule="evenodd" fill="#c98a50" d="M602.15,775.1 H612.3 Q615.5,775.1 615.5,778.3 V784.6 Q615.5,786.6 613.9,787.3 Q615.5,788 615.5,790 V797.75 H611 V789.9 Q611,788.3 609.4,788.3 H607.1 V797.75 H602.15 Z M607.1,779 H609.6 Q611,779 611,780.4 V782.6 Q611,784 609.6,784 H607.1 Z"/>
<path fill-rule="evenodd" fill="#c98a50" d="M626.1,775.1 H632.4 L635.9,797.75 H631.5 L630.95,793.9 H627.6 L627.05,797.75 H622.7 Z M628.1,790.7 H630.5 L629.45,781.8 H629.15 Z"/>
<path fill-rule="evenodd" fill="#c98a50" d="M643.6,775.0 H652.8 Q656.4,775.0 656.4,778.6 V794.1999999999999 Q656.4,797.8 652.8,797.8 H643.6 Z M648.1,778.9 H652.1999999999999 V794.0 H648.1 Z"/>
<rect x="664.9" y="775.0" width="4.4" height="22.8" fill="#c98a50"/>
<path fill="#c98a50" d="M677.3,774.8 H681.6 L686.1,789.8 V774.8 H690.1 V797.8 H685.9 L681.2,782.9 V797.8 H677.3 Z"/>
<rect x="697.9" y="774.4" width="13.1" height="23.7" rx="6" ry="6" fill="#c98a50"/>
<rect x="701.8" y="778.7" width="5.2" height="15" rx="2.6" ry="2.6" fill="#f7f7f7"/>
<rect x="706.5" y="782.6" width="5" height="3.2" fill="#f7f7f7"/>
<rect x="703.6" y="785.8" width="7.4" height="3.5" fill="#c98a50"/>
<rect x="716.9" y="793.4" width="4.2" height="4.4" fill="#c98a50"/>
<path fill-rule="evenodd" fill="#222222" d="M729.0,775.0 H738.6 Q742.2,775.0 742.2,778.6 V794.1999999999999 Q742.2,797.8 738.6,797.8 H729.0 Z M733.5,778.9 H738.0 V794.0 H733.5 Z"/>
<path fill="#222222" d="M750.9,775 H761.9 V778.8 H754.9 V784.1 H761.2 V787.8 H754.9 V794 H761.9 V797.8 H750.9 Z"/>
</svg>
</body></html>
